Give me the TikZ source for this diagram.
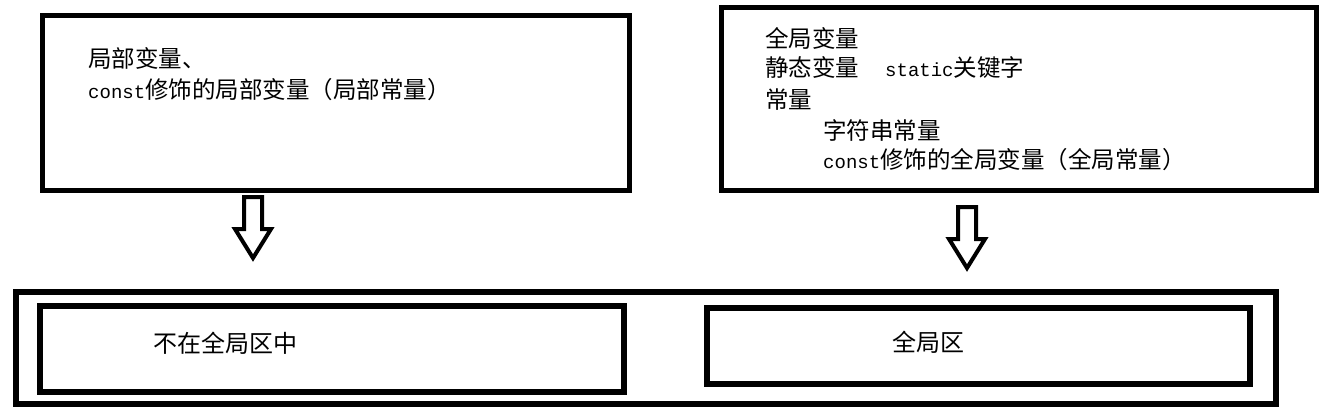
\documentclass[tikz,border=0pt]{standalone}
\usepackage{fontspec}
\newfontfamily\cjk{Noto Sans CJK SC}
\newfontfamily\mono{Liberation Mono}
\newcommand{\cw}{\cjk\fontsize{23.5}{30}\selectfont}
\newcommand{\mw}{\mono\fontsize{19}{30}\selectfont}
\begin{document}
\begin{tikzpicture}[x=1pt,y=-1pt,
  box/.style={draw, line width=5pt, minimum width=#1},
  thickbox/.style={draw, line width=6pt, minimum width=#1},
  txt/.style={anchor=west, inner sep=0pt, font=\cw},
  btxt/.style={anchor=west, inner sep=0pt, font=\cjk\fontsize{24}{30}\selectfont},
  blockarrow/.pic={\draw[line width=4pt, line join=miter] (-9,0) -- (9,0) -- (9,32) -- (18,32) -- (0,61) -- (-18,32) -- (-9,32) -- cycle;}]
\useasboundingbox (0,0) rectangle (1335,415);
% top boxes
\node[box=587pt, minimum height=175pt] (topL) at (335.5,102.5) {};
\node[box=595pt, minimum height=183pt] (topR) at (1018.5,98.5) {};
% left texts
\node[txt] (l1) at (88,58) {局部变量、};
\node[txt] (l2) at (88,90) {{\mw const}修饰的局部变量（局部常量）};
% right texts
\node[txt] (r1) at (765,38) {全局变量};
\node[txt] (r2) at (765,68) {静态变量\hspace{26pt}{\mw static}关键字};
\node[txt] (r3) at (765,100) {常量};
\node[txt] (r4) at (823,130) {字符串常量};
\node[txt] (r5) at (823,160) {{\mw const}修饰的全局变量（全局常量）};
% arrows
\pic at (253,197) {blockarrow};
\pic at (967,207) {blockarrow};
% bottom boxes
\node[thickbox=1260pt, minimum height=112pt] (outer) at (646,348) {};
\node[thickbox=584pt, minimum height=86pt] (bL) at (332,349) {};
\node[thickbox=543pt, minimum height=76pt] (bR) at (978.5,346) {};
\node[btxt] (t1) at (153,343) {不在全局区中};
\node[btxt] (t2) at (892,342) {全局区};
\end{tikzpicture}
\end{document}
